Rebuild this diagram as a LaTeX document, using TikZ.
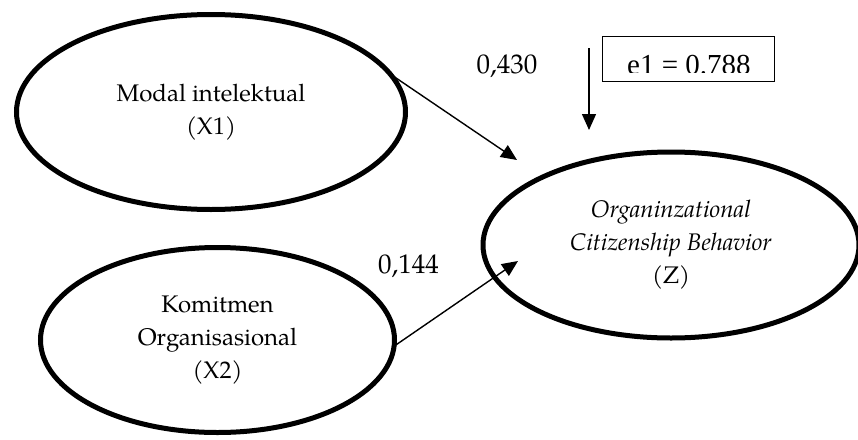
\documentclass[tikz,border=0pt]{standalone}
\usepackage{fontspec}
\setmainfont{texgyrepagella}[Extension=.otf, UprightFont=*-regular, ItalicFont=*-italic, BoldFont=*-bold, BoldItalicFont=*-bolditalic]
\newfontfamily\timesfont{Liberation Serif}
\usetikzlibrary{shapes.geometric, arrows.meta}
\begin{document}
\begin{tikzpicture}[x=1pt, y=-1pt,
  latent/.style={draw, ellipse, line width=5pt, inner sep=0pt, outer sep=0pt, align=center, font=\fontsize{24}{33}\selectfont},
  patharrow/.style={line width=1.4pt, -{Triangle[length=16pt, width=14pt]}},
  coef/.style={font=\fontsize{27}{30}\selectfont, inner sep=0pt, anchor=base}
]
\useasboundingbox (0,0) rectangle (858,439);

% latent variables
\node[latent, minimum width=389pt, minimum height=195pt] (X1) at (211,112) {Modal intelektual\\(X1)};
\node[latent, minimum width=354pt, minimum height=185pt] (X2) at (217.5,340) {Komitmen\\Organisasional\\(X2)};
\node[latent, minimum width=376pt, minimum height=186pt] (Z) at (671,245) {\textit{Organinzational}\\\textit{Citizenship Behavior}\\(Z)};

% arrow ends
\coordinate (t1) at (517,160);
\coordinate (t2) at (518,261);
\coordinate (etop) at (589,48);
\coordinate (etip) at (589,130);

\draw[patharrow] (X1.12) -- (t1);
\draw[patharrow] (X2.-2) -- (t2);
\draw[patharrow] (etop) -- (etip);

% coefficients
\node[coef] (c1) at (507,73) {0,430};
\node[coef] (c2) at (408.5,273) {0,144};

% error term box
\node[draw, line width=1.3pt, minimum width=172pt, minimum height=45pt, inner sep=0pt, outer sep=0pt] (e1box) at (688.5,59) {};
\begin{scope}
  \clip (600,30) rectangle (780,72.7);
  \node[font=\timesfont\fontsize{29}{32}\selectfont, inner sep=0pt, anchor=base west] (e1txt) at (627,74.6) {e1 = 0.788};
\end{scope}
\end{tikzpicture}
\end{document}
